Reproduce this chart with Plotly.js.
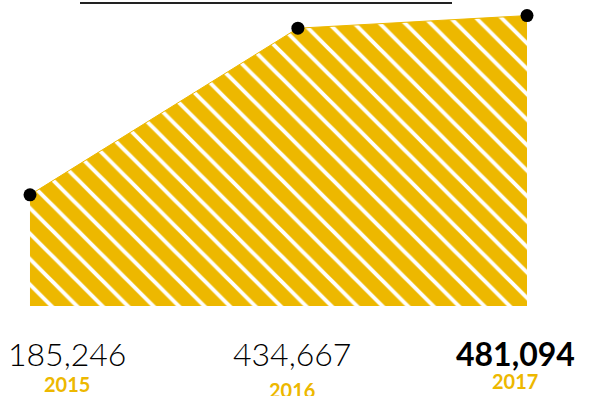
<!DOCTYPE html>
<html>
<head>
<meta charset="utf-8">
<script src="https://cdn.plot.ly/plotly-3.0.1.min.js"></script>
<style>html,body{margin:0;padding:0;background:#fff;}#chart{width:593px;height:396px;}</style>
</head>
<body>
<div id="chart"></div>
<script>
// Data
const years = ['2015', '2016', '2017'];
const valueLabels = ['185,246', '434,667', '481,094'];
// horizontal positions of the three points (time axis, as drawn)
const xPos = [0, 1.078, 2];
// drawn heights of the area at each point
const drawnLevel = [185246, 463000, 484000];
const boldLabel = [false, false, true];

const gold = '#EDB800';

const trace = {
  x: xPos,
  y: drawnLevel,
  type: 'scatter',
  mode: 'lines+markers',
  fill: 'tozeroy',
  fillcolor: gold,
  fillpattern: {shape: '\\', bgcolor: gold, fgcolor: '#ffffff', size: 18, solidity: 0.22},
  line: {color: gold, width: 1},
  marker: {color: '#000000', size: 13},
  hoverinfo: 'skip'
};

const labelX = [67, 292, 515];
const numberY = [353, 353, 353];
const yearY = [384, 390, 381];
const annotations = [];
years.forEach((yr, i) => {
  annotations.push({
    xref: 'paper', yref: 'paper',
    x: labelX[i] / 593, y: 1 - numberY[i] / 396,
    xanchor: 'center', yanchor: 'middle',
    text: boldLabel[i] ? '<b>' + valueLabels[i] + '</b>' : valueLabels[i],
    showarrow: false,
    font: {family: 'Lato, "Open Sans", sans-serif', size: 32, color: '#000', weight: boldLabel[i] ? 700 : 300}
  });
  annotations.push({
    xref: 'paper', yref: 'paper',
    x: labelX[i] / 593, y: 1 - yearY[i] / 396,
    xanchor: 'center', yanchor: 'middle',
    text: '<b>' + yr + '</b>',
    showarrow: false,
    font: {family: 'Lato, "Open Sans", sans-serif', size: 20, color: gold}
  });
});

const layout = {
  width: 593, height: 396,
  margin: {l: 0, r: 0, t: 0, b: 0, pad: 0},
  paper_bgcolor: '#ffffff', plot_bgcolor: '#ffffff',
  showlegend: false,
  xaxis: {range: [-0.1207, 2.2656], visible: false, fixedrange: true},
  yaxis: {range: [-150000, 510000], visible: false, fixedrange: true},
  shapes: [{
    type: 'line', xref: 'paper', yref: 'paper',
    x0: 80 / 593, x1: 452 / 593, y0: 1 - 3 / 396, y1: 1 - 3 / 396,
    line: {color: '#222222', width: 2}
  }],
  annotations: annotations
};

Plotly.newPlot('chart', [trace], layout, {displayModeBar: false, staticPlot: true});
</script>
</body>
</html>
